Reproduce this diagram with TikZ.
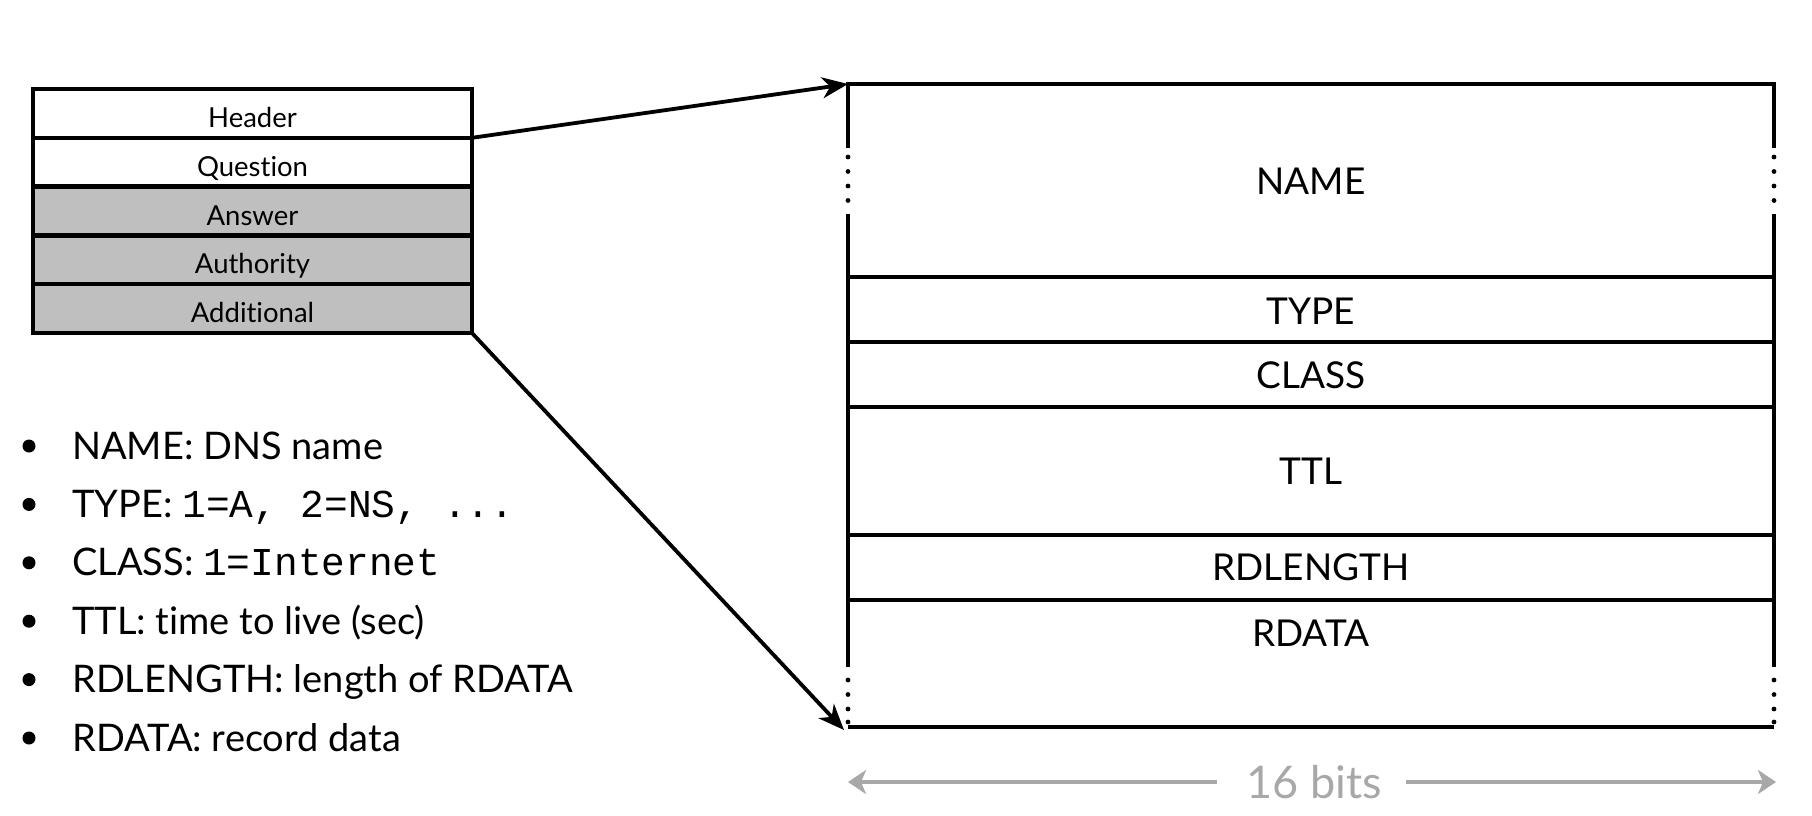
\documentclass[tikz,border=0pt]{standalone}
\usepackage{fontspec}
\setmainfont{Lato}[Ligatures=NoCommon]
\setmonofont{Liberation Mono}
\usetikzlibrary{arrows.meta}
\definecolor{boxgray}{RGB}{191,191,191}
\definecolor{bitsgray}{RGB}{168,168,168}
\begin{document}
\begin{tikzpicture}[x=1pt,y=-1pt,
  rowbox/.style={draw=black, line width=4.5pt, minimum width=439pt, minimum height=48.8pt,
    inner sep=0pt, outer sep=0pt, text height=28pt, text depth=0pt,
    font=\fontsize{27.5}{30}\selectfont},
  shaded/.style={rowbox, fill=boxgray},
  fld/.style={line width=3.8pt, black},
  fldlabel/.style={font=\fontsize{37}{40}\selectfont, inner sep=0pt},
  conn/.style={line width=3.8pt, -{Stealth[length=26pt,width=21pt,inset=8pt]}},
  dimarrow/.style={line width=4.8pt, bitsgray, -{Stealth[length=18pt,width=24pt,inset=5pt]}},
  dotmark/.style={circle, fill=black, inner sep=0pt, minimum size=4.8pt},
  bul/.style={circle, fill=black, inner sep=0pt, minimum size=13pt},
  item/.style={anchor=base west, inner sep=0pt, font=\fontsize{38}{40}\selectfont},
  mono/.style={font=\fontsize{39}{40}\selectfont\ttfamily}
]
\useasboundingbox (0,0) rectangle (1812,815);

% left message box
\node[rowbox, fill=white] (header) at (252.5,113.4) {Header};
\node[rowbox, fill=white] (question) at (252.5,162.2) {Question};
\node[shaded] (answer) at (252.5,211.0) {Answer};
\node[shaded] (authority) at (252.5,259.8) {Authority};
\node[shaded] (additional) at (252.5,308.6) {Additional};

% right record box corners
\coordinate (rtl) at (848,84);
\coordinate (rtr) at (1774,84);
\coordinate (rbl) at (848,727);
\coordinate (rbr) at (1774,727);

% top part with dotted sides
\draw[fld, line join=miter] (848,148) -- (rtl) -- (rtr) -- (1774,148);
\foreach \yy in {157,171.5,186,200.5} {
  \node[dotmark] at (848,\yy) {};
  \node[dotmark] at (1774,\yy) {};
}
\draw[fld] (848,214) -- (848,667);
\draw[fld] (1774,214) -- (1774,667);
\foreach \yy in {680,694.5,709,722} {
  \node[dotmark] at (848,\yy) {};
  \node[dotmark] at (1774,\yy) {};
}
\foreach \yy in {277,342,407,535,600} {
  \draw[fld] (848,\yy) -- (1774,\yy);
}
\draw[fld] (rbl) -- (rbr);

% field labels
\node[fldlabel] (fname) at (1311,181) {NAME};
\node[fldlabel] (ftype) at (1311,311) {TYPE};
\node[fldlabel] (fclass) at (1311,375) {CLASS};
\node[fldlabel] (fttl) at (1311,471) {TTL};
\node[fldlabel] (frdlen) at (1311,567) {RDLENGTH};
\node[fldlabel] (frdata) at (1311,633) {RDATA};

% connectors
\draw[conn] (header.south east) -- (rtl);
\draw[conn] (additional.south east) -- ([xshift=-4pt,yshift=-3pt]rbl);

% 16 bits dimension
\node[font=\fontsize{45}{50}\selectfont, text=bitsgray, inner sep=0pt] (bits) at (1314,782) {16 bits};
\coordinate (dimL) at (848,782);
\coordinate (dimR) at (1776,782);
\draw[dimarrow] ([xshift=-29pt]bits.west |- bits.center) -- (dimL);
\draw[dimarrow] ([xshift=24pt]bits.east |- bits.center) -- (dimR);

% bullet list
\node[bul] (d1) at (29,446) {};
\node[item] (t1) at (72,459) {NAME: DNS name};
\node[bul] (d2) at (29,504.4) {};
\node[item] (t2) at (72,517.4) {TYPE: {\fontsize{39.5}{40}\selectfont\ttfamily 1=A, 2=NS, ...}};
\node[bul] (d3) at (29,562.8) {};
\node[item] (t3) at (72,575.8) {CLASS: {\fontsize{39.5}{40}\selectfont\ttfamily 1=Internet}};
\node[bul] (d4) at (29,621.2) {};
\node[item] (t4) at (72,634.2) {TTL: time to live (sec)};
\node[bul] (d5) at (29,679.6) {};
\node[item] (t5) at (72,692.6) {RDLENGTH: length of RDATA};
\node[bul] (d6) at (29,738) {};
\node[item] (t6) at (72,751) {RDATA: record data};
\end{tikzpicture}
\end{document}
